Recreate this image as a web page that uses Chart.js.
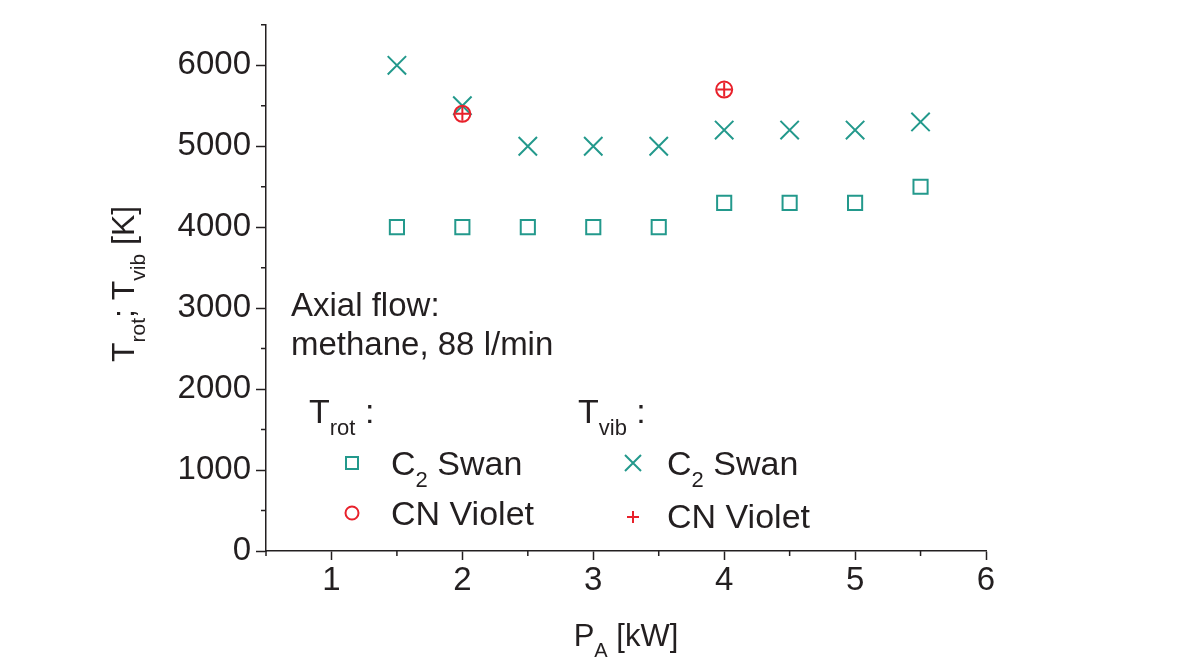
<!DOCTYPE html>
<html>
<head>
<meta charset="utf-8">
<script src="https://cdn.jsdelivr.net/npm/chart.js@4.4.1/dist/chart.umd.min.js"></script>
<style>
  html, body { margin: 0; padding: 0; background: #fff; }
</style>
</head>
<body>
<canvas id="chart" width="1179" height="664"></canvas>
<script>
// data
const power = [1.5, 2, 2.5, 3, 3.5, 4, 4.5, 5, 5.5];          // P_A [kW]
const trotC2 = [4000, 4000, 4000, 4000, 4000, 4300, 4300, 4300, 4500];
const tvibC2 = [6000, 5500, 5000, 5000, 5000, 5200, 5200, 5200, 5300];
const cnPower = [2, 4];
const trotCN = [5400, 5700];
const tvibCN = [5400, 5700];
const xTickLabels = [1, 2, 3, 4, 5, 6];
const yTickLabels = [0, 1000, 2000, 3000, 4000, 5000, 6000];

const TEAL = '#23998c';
const RED = '#e8212b';
const INK = '#231f20';
const FAMILY = '"Liberation Sans", Arial, sans-serif';

const pts = (xs, ys) => xs.map((x, i) => ({ x: x, y: ys[i] }));

// text with subscripts
function richWidth(ctx, parts, size) {
  let w = 0;
  parts.forEach(p => {
    ctx.font = Math.round(p.sub ? size * 0.66 : size) + 'px ' + FAMILY;
    w += ctx.measureText(p.t).width;
  });
  return w;
}
function drawRich(ctx, parts, x, y, size) {
  parts.forEach(p => {
    ctx.font = Math.round(p.sub ? size * 0.66 : size) + 'px ' + FAMILY;
    ctx.fillText(p.t, x, y + (p.sub ? size * 0.34 : 0));
    x += ctx.measureText(p.t).width;
  });
  return x;
}

const extras = {
  id: 'extras',
  afterDraw(chart) {
    const ctx = chart.ctx;
    const xs = chart.scales.x, ys = chart.scales.y;
    ctx.save();
    // minor ticks
    ctx.strokeStyle = INK;
    ctx.lineWidth = 1.5;
    ctx.beginPath();
    for (let v = 500; v <= 6500; v += 1000) {
      const py = ys.getPixelForValue(v);
      ctx.moveTo(xs.left, py); ctx.lineTo(xs.left - 5, py);
    }
    for (let v = 0.5; v <= 6; v += 1) {
      const px = xs.getPixelForValue(v);
      ctx.moveTo(px, ys.bottom); ctx.lineTo(px, ys.bottom + 5);
    }
    ctx.stroke();

    ctx.fillStyle = INK;
    ctx.textBaseline = 'alphabetic';
    ctx.textAlign = 'left';

    // x title
    const xt = [{ t: 'P' }, { t: 'A', sub: true }, { t: ' [kW]' }];
    const xw = richWidth(ctx, xt, 31);
    drawRich(ctx, xt, (xs.left + xs.right) / 2 - xw / 2, 646, 31);

    // y title
    const yt = [{ t: 'T' }, { t: 'rot', sub: true }, { t: '; T' }, { t: 'vib', sub: true }, { t: ' [K]' }];
    const yw = richWidth(ctx, yt, 32);
    ctx.save();
    ctx.translate(134, (ys.top + ys.bottom) / 2 + yw / 2 - 4);
    ctx.rotate(-Math.PI / 2);
    drawRich(ctx, yt, 0, 0, 32);
    ctx.restore();

    // annotation
    ctx.font = '33px ' + FAMILY;
    ctx.fillText('Axial flow:', 291, 316);
    ctx.fillText('methane, 88 l/min', 291, 355);

    // legend
    drawRich(ctx, [{ t: 'T' }, { t: 'rot', sub: true }, { t: ' :' }], 309, 423, 34);
    drawRich(ctx, [{ t: 'T' }, { t: 'vib', sub: true }, { t: ' :' }], 578, 423, 34);
    drawRich(ctx, [{ t: 'C' }, { t: '2', sub: true }, { t: ' Swan' }], 391, 475, 34);
    drawRich(ctx, [{ t: 'CN Violet' }], 391, 525, 34);
    drawRich(ctx, [{ t: 'C' }, { t: '2', sub: true }, { t: ' Swan' }], 667, 475, 34);
    drawRich(ctx, [{ t: 'CN Violet' }], 667, 528, 34);

    ctx.lineWidth = 2;
    // square
    ctx.strokeStyle = TEAL;
    ctx.strokeRect(352 - 6, 463 - 6, 12, 12);
    // cross
    ctx.beginPath();
    ctx.moveTo(633 - 8, 463 - 8); ctx.lineTo(633 + 8, 463 + 8);
    ctx.moveTo(633 + 8, 463 - 8); ctx.lineTo(633 - 8, 463 + 8);
    ctx.stroke();
    // circle
    ctx.strokeStyle = RED;
    ctx.beginPath();
    ctx.arc(352, 513, 6.5, 0, Math.PI * 2);
    ctx.stroke();
    // plus
    ctx.beginPath();
    ctx.moveTo(633 - 6, 517); ctx.lineTo(633 + 6, 517);
    ctx.moveTo(633, 517 - 6); ctx.lineTo(633, 517 + 6);
    ctx.stroke();
    ctx.restore();
  }
};

new Chart(document.getElementById('chart').getContext('2d'), {
  type: 'scatter',
  data: {
    datasets: [
      {
        label: 'Trot CN Violet',
        data: pts(cnPower, trotCN),
        pointStyle: 'circle', pointRadius: 8, borderWidth: 2,
        borderColor: RED, backgroundColor: 'rgba(0,0,0,0)', order: 1
      },
      {
        label: 'Tvib CN Violet',
        data: pts(cnPower, tvibCN),
        pointStyle: 'cross', pointRadius: 7, borderWidth: 2,
        borderColor: RED, backgroundColor: RED, order: 0
      },
      {
        label: 'Trot C2 Swan',
        data: pts(power, trotC2),
        pointStyle: 'rect', pointRadius: 10, borderWidth: 2,
        borderColor: TEAL, backgroundColor: 'rgba(0,0,0,0)', order: 3
      },
      {
        label: 'Tvib C2 Swan',
        data: pts(power, tvibC2),
        pointStyle: 'crossRot', pointRadius: 13, borderWidth: 2,
        borderColor: TEAL, backgroundColor: TEAL, order: 2
      }
    ]
  },
  options: {
    responsive: false,
    devicePixelRatio: 1,
    animation: false,
    layout: { padding: { left: 0, right: 193, top: 23, bottom: 0 } },
    plugins: { legend: { display: false }, tooltip: { enabled: false } },
    scales: {
      x: {
        type: 'linear', min: 0.5, max: 6,
        afterFit: s => { s.height = 113; },
        border: { color: INK, width: 1.5 },
        grid: {
          drawOnChartArea: false, tickLength: 9, tickWidth: 1.5,
          tickColor: c => xTickLabels.includes(c.tick.value) ? INK : 'rgba(0,0,0,0)'
        },
        ticks: {
          stepSize: 0.5, autoSkip: false, maxRotation: 0, padding: 1,
          color: INK, font: { family: FAMILY, size: 33 },
          callback: v => xTickLabels.includes(v) ? String(v) : ''
        }
      },
      y: {
        type: 'linear', min: 0, max: 6500,
        afterFit: s => { s.width = 266; },
        border: { color: INK, width: 1.5 },
        grid: {
          drawOnChartArea: false, tickLength: 10, tickWidth: 1.5,
          tickColor: c => yTickLabels.includes(c.tick.value) ? INK : 'rgba(0,0,0,0)'
        },
        ticks: {
          stepSize: 500, autoSkip: false, padding: 5,
          color: INK, font: { family: FAMILY, size: 33 },
          callback: v => yTickLabels.includes(v) ? String(v) : ''
        }
      }
    }
  },
  plugins: [extras]
});
</script>
</body>
</html>
